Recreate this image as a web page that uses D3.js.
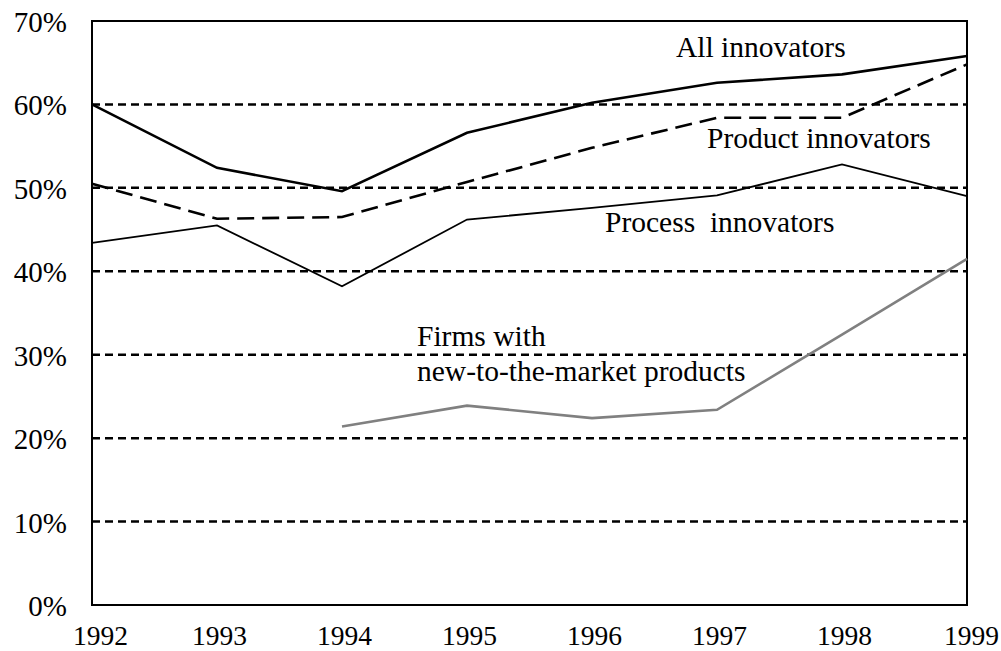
<!DOCTYPE html>
<html><head><meta charset="utf-8">
<script src="https://cdn.jsdelivr.net/npm/d3@7"></script>
<style>body{margin:0;background:#fff}svg{display:block}text{font-family:"Liberation Serif","Times New Roman",serif;fill:#000}</style>
</head><body>
<script>
const years = [1992, 1993, 1994, 1995, 1996, 1997, 1998, 1999];
const allInnovators = [60.0, 52.4, 49.6, 56.6, 60.2, 62.6, 63.6, 65.8];
const productInnovators = [50.5, 46.3, 46.5, 50.7, 54.8, 58.4, 58.4, 64.8];
const processInnovators = [43.4, 45.5, 38.2, 46.2, 47.6, 49.1, 52.8, 49.0];
const newToMarket = [null, null, 21.4, 23.9, 22.4, 23.4, 32.4, 41.5];
const yTicks = [0, 10, 20, 30, 40, 50, 60, 70];
const gridTicks = [10, 20, 30, 40, 50, 60];

const W = 1001, H = 651;
const L = 92, R = 967, T = 21, B = 605;
const svg = d3.select("body").append("svg").attr("width", W).attr("height", H);
const x = d3.scaleLinear().domain([1992, 1999]).range([L, R]);
const y = d3.scaleLinear().domain([0, 70]).range([B, T]);

// gridlines
svg.append("g").selectAll("line").data(gridTicks).join("line")
  .attr("x1", L).attr("x2", R).attr("y1", d => y(d)).attr("y2", d => y(d))
  .attr("stroke", "#000").attr("stroke-width", 2.5).attr("stroke-dasharray", "8,5");

// y axis labels
const yAxis = svg.append("g").attr("transform", `translate(${L},0)`)
  .call(d3.axisLeft(y).tickValues(yTicks).tickSize(0).tickPadding(25).tickFormat(d => d + "%"));
yAxis.select(".domain").remove();
yAxis.selectAll("text").attr("font-size", 29).attr("dy", "0.36em")
  .style("font-family", '"Liberation Serif", serif');

// x axis labels
const xAxis = svg.append("g").attr("transform", `translate(0,${B})`)
  .call(d3.axisBottom(x).tickValues(years).tickSize(0).tickPadding(0).tickFormat(d3.format("d")));
xAxis.select(".domain").remove();
xAxis.selectAll("text").attr("font-size", 27.5).attr("y", 40).attr("dy", 0)
  .attr("dx", (d, i) => i === 0 ? 8 : (i === years.length - 1 ? 4 : 2))
  .style("font-family", '"Liberation Serif", serif');

// frame
svg.append("rect").attr("x", L).attr("y", T).attr("width", R - L).attr("height", B - T)
  .attr("fill", "none").attr("stroke", "#000").attr("stroke-width", 2);

const line = d3.line().defined(d => d[1] != null).x(d => x(d[0])).y(d => y(d[1]));
function series(vals, stroke, width, dash) {
  svg.append("path").datum(years.map((yr, i) => [yr, vals[i]]))
    .attr("d", line).attr("fill", "none").attr("stroke", stroke)
    .attr("stroke-width", width).attr("stroke-dasharray", dash || null)
    .attr("stroke-linejoin", "miter");
}
series(newToMarket, "#808080", 2.6);
series(processInnovators, "#000", 1.8);
series(productInnovators, "#000", 2.6, "17,8");
series(allInnovators, "#000", 2.6);

// labels
const labels = [
  {t: "All innovators", x: 676, y: 57},
  {t: "Product innovators", x: 707, y: 148},
  {t: "Process\u00a0\u00a0innovators", x: 605, y: 232},
  {t: "Firms with", x: 417, y: 346},
  {t: "new-to-the-market products", x: 417, y: 381}
];
svg.append("g").selectAll("text").data(labels).join("text")
  .attr("x", d => d.x).attr("y", d => d.y).attr("font-size", 29.5).text(d => d.t);
</script>
</body></html>
